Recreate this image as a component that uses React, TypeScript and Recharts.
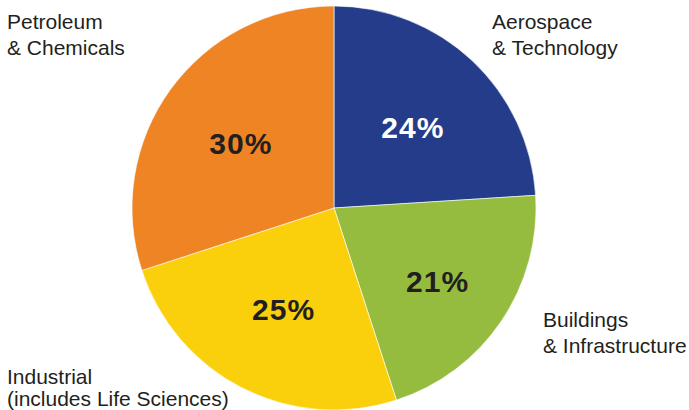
import { PieChart, Pie, Cell } from "recharts"

const sectors = ["Aerospace & Technology", "Buildings & Infrastructure", "Industrial (includes Life Sciences)", "Petroleum & Chemicals"]
const shares = [24, 21, 25, 30]
const nameLines = [
  ["Aerospace", "& Technology"],
  ["Buildings", "& Infrastructure"],
  ["Industrial", "(includes Life Sciences)"],
  ["Petroleum", "& Chemicals"],
]

const colors = ["#253C8A", "#95BC3F", "#FACF0C", "#EE8424"]
const pctColors = ["#ffffff", "#231F20", "#231F20", "#231F20"]
// how far out the % sits, as a share of the radius
const pctRadius = [0.57, 0.62, 0.55, 0.57]
// where the sector names sit (left edge, first baseline, line gap)
const namePos = [
  { x: 492, y: 29, gap: 26 },
  { x: 543, y: 327, gap: 26 },
  { x: 7, y: 384, gap: 22 },
  { x: 7, y: 29, gap: 26 },
]

const data = sectors.map((name, i) => ({ name, value: shares[i] }))

const RADIAN = Math.PI / 180
const font = "'Liberation Sans', Arial, Helvetica, sans-serif"

function renderLabel(props: any) {
  const { cx, cy, midAngle, outerRadius, index, value } = props
  const r = outerRadius * pctRadius[index]
  const x = cx + r * Math.cos(-midAngle * RADIAN)
  const y = cy + r * Math.sin(-midAngle * RADIAN) + 3
  const pos = namePos[index]
  return (
    <g>
      <text
        x={x}
        y={y}
        fill={pctColors[index]}
        textAnchor="middle"
        dominantBaseline="central"
        fontFamily={font}
        fontWeight="bold"
        fontSize={30}
        letterSpacing={1}
      >
        {value}%
      </text>
      <text x={pos.x} y={pos.y} fill="#231F20" fontFamily={font} fontSize={21}>
        {nameLines[index].map((line, j) => (
          <tspan key={j} x={pos.x} dy={j === 0 ? 0 : pos.gap}>
            {line}
          </tspan>
        ))}
      </text>
    </g>
  )
}

export default function App() {
  return (
    <div style={{ position: "absolute", left: 0, top: 0, background: "#fff" }}>
      <PieChart width={689} height={410} margin={{ top: 0, right: 0, bottom: 0, left: 0 }}>
        <Pie
          data={data}
          dataKey="value"
          cx={334}
          cy={208}
          outerRadius={202}
          startAngle={90}
          endAngle={-270}
          stroke="#ffffff"
          strokeWidth={0.6}
          label={renderLabel}
          labelLine={false}
          isAnimationActive={false}
        >
          {data.map((d, i) => (
            <Cell key={d.name} fill={colors[i]} />
          ))}
        </Pie>
      </PieChart>
    </div>
  )
}
